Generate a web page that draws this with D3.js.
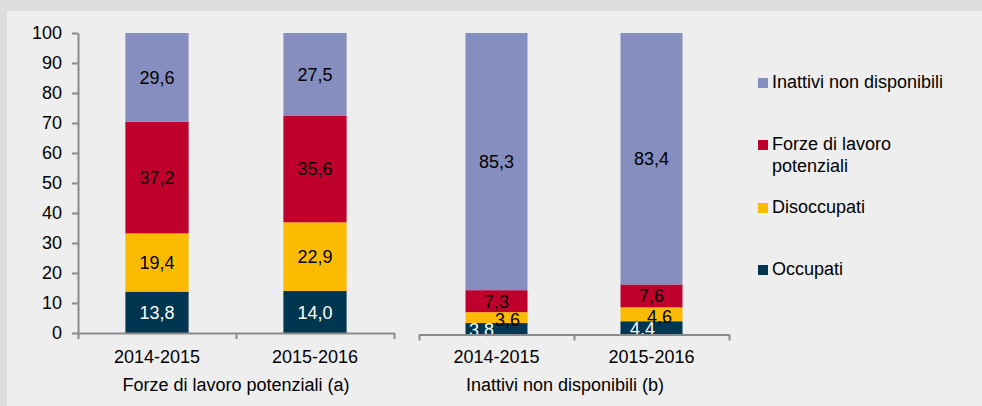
<!DOCTYPE html>
<html>
<head>
<meta charset="utf-8">
<script src="https://cdn.jsdelivr.net/npm/d3@7"></script>
<style>
  html, body { margin: 0; padding: 0; background: #dcdddf; }
  svg { display: block; font-family: "Liberation Sans", Arial, sans-serif; }
</style>
</head>
<body>
<svg id="chart" width="982" height="406"></svg>
<script>
// ---- Data ----
const groupNames = ["Forze di lavoro potenziali (a)", "Inattivi non disponibili (b)"];
const categories = ["2014-2015", "2015-2016"];
const seriesNames = ["Occupati", "Disoccupati", "Forze di lavoro potenziali", "Inattivi non disponibili"];
// values per group: [2014-2015, 2015-2016]
const occupatiA = [13.8, 14.0];
const disoccupatiA = [19.4, 22.9];
const forzeA = [37.2, 35.6];
const inattiviA = [29.6, 27.5];
const occupatiB = [3.8, 4.4];
const disoccupatiB = [3.6, 4.6];
const forzeB = [7.3, 7.6];
const inattiviB = [85.3, 83.4];
const yTicks = [0, 10, 20, 30, 40, 50, 60, 70, 80, 90, 100];
const legendLabels = ["Inattivi non disponibili", "Forze di lavoro potenziali", "Disoccupati", "Occupati"];

// ---- Styles ----
const colors = {
  "Occupati": "#003650",
  "Disoccupati": "#fbbb00",
  "Forze di lavoro potenziali": "#c0002c",
  "Inattivi non disponibili": "#868ebf"
};
const labelColors = {
  "Occupati": "#ffffff",
  "Disoccupati": "#000000",
  "Forze di lavoro potenziali": "#000000",
  "Inattivi non disponibili": "#000000"
};
const axisColor = "#8a8a8a";

const svg = d3.select("#chart");

// panel
svg.append("rect").attr("x", 7).attr("y", 11).attr("width", 975).attr("height", 395).attr("fill", "#eeeeee");

const y = d3.scaleLinear().domain([0, 100]).range([333, 33]);
const yB = d3.scaleLinear().domain([0, 100]).range([334.5, 33]);
const yScales = [y, yB];
const axisY = [333, 334.5];

const groupData = [
  [occupatiA, disoccupatiA, forzeA, inattiviA],
  [occupatiB, disoccupatiB, forzeB, inattiviB]
];
const groupRanges = [[78, 394], [419, 729]];
const groupLabelX = [236, 565];

const fmt = v => d3.format(".1f")(v).replace(".", ",");

// label nudges for thin segments (group, category, series) -> [dx, dy]
function nudge(g, c, s) {
  if (g === 1) {
    if (s === 0) return [c === 0 ? -15 : -9, 1];
    if (s === 1) return [c === 0 ? 11 : 8, 2];
  }
  return [0, 0];
}

groupData.forEach((series, g) => {
  const ys = yScales[g];
  const x = d3.scaleBand().domain(categories).range(groupRanges[g]).paddingInner(0.6).paddingOuter(0.3);
  const rows = categories.map((cat, ci) => {
    const row = { cat };
    seriesNames.forEach((s, si) => { row[s] = series[si][ci]; });
    return row;
  });
  const stack = d3.stack().keys(seriesNames)(rows);

  const layer = svg.append("g");
  stack.forEach((ser, si) => {
    const name = seriesNames[si];
    layer.selectAll(null).data(ser).enter().append("rect")
      .attr("x", d => x(d.data.cat))
      .attr("width", x.bandwidth())
      .attr("y", d => ys(Math.min(d[1], 100)))
      .attr("height", d => ys(d[0]) - ys(Math.min(d[1], 100)))
      .attr("fill", colors[name]);
  });
  stack.forEach((ser, si) => {
    const name = seriesNames[si];
    layer.selectAll(null).data(ser).enter().append("text")
      .attr("x", (d, ci) => x(d.data.cat) + x.bandwidth() / 2 + nudge(g, ci, si)[0])
      .attr("y", (d, ci) => ys((d[0] + d[1]) / 2) + 6.5 + nudge(g, ci, si)[1])
      .attr("text-anchor", "middle")
      .attr("font-size", "18px")
      .attr("fill", labelColors[name])
      .text(d => fmt(d[1] - d[0]));
  });

  // x axis with boundary ticks
  const xb = d3.scaleLinear().domain([0, categories.length]).range(groupRanges[g]);
  const ax = svg.append("g").attr("transform", `translate(0,${axisY[g]})`)
    .call(d3.axisBottom(xb).tickValues(d3.range(categories.length + 1)).tickFormat("").tickSize(6).tickSizeOuter(0));
  ax.select(".domain").attr("stroke", axisColor).attr("stroke-width", 2);
  ax.selectAll(".tick line").attr("stroke", axisColor).attr("stroke-width", 2);

  svg.selectAll(null).data(categories).enter().append("text")
    .attr("x", d => x(d) + x.bandwidth() / 2)
    .attr("y", 363)
    .attr("text-anchor", "middle")
    .attr("font-size", "18px")
    .attr("fill", "#000")
    .text(d => d);

  svg.append("text")
    .attr("x", groupLabelX[g]).attr("y", 391)
    .attr("text-anchor", "middle")
    .attr("font-size", "18px")
    .attr("fill", "#000")
    .text(groupNames[g]);
});

// y axis
const yAx = svg.append("g").attr("transform", "translate(78,0)")
  .call(d3.axisLeft(y).tickValues(yTicks).tickSize(6).tickPadding(10).tickSizeOuter(0));
yAx.select(".domain").attr("stroke", axisColor).attr("stroke-width", 2);
yAx.selectAll(".tick line").attr("stroke", axisColor).attr("stroke-width", 2);
yAx.selectAll(".tick text").attr("font-size", "18px").attr("fill", "#000")
  .attr("font-family", "'Liberation Sans', Arial, sans-serif");

// legend
const legendY = [88, 150, 213, 275];
const leg = svg.append("g");
legendLabels.forEach((name, i) => {
  leg.append("rect").attr("x", 758).attr("y", legendY[i] - 10).attr("width", 10).attr("height", 10)
    .attr("fill", colors[name]);
  const t = leg.append("text").attr("x", 772).attr("y", legendY[i]).attr("font-size", "18px").attr("fill", "#000");
  if (name === "Forze di lavoro potenziali") {
    t.append("tspan").attr("x", 772).text("Forze di lavoro");
    t.append("tspan").attr("x", 772).attr("dy", 22).text("potenziali");
  } else {
    t.text(name);
  }
});
</script>
</body>
</html>
